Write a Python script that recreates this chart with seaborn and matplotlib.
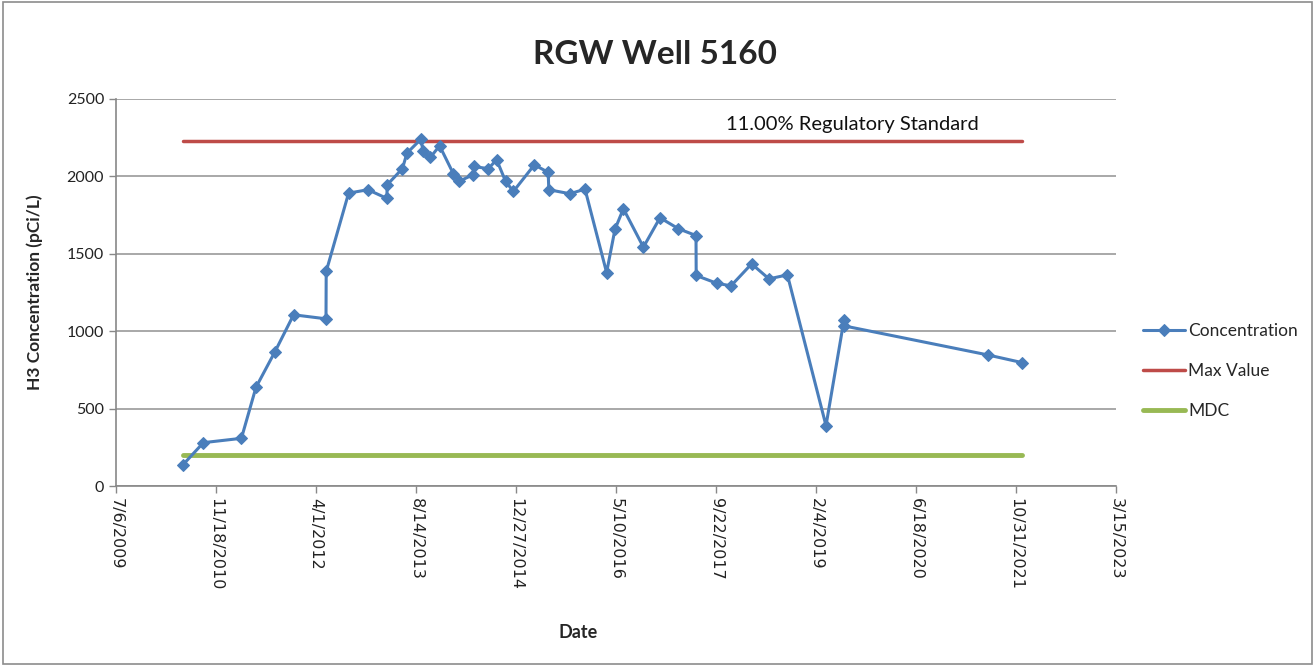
import matplotlib
matplotlib.use("Agg")
import matplotlib.pyplot as plt
from matplotlib.patches import Rectangle
import numpy as np
import pandas as pd
import seaborn as sns

#%% data

dates = ["2010-06-05", "2010-09-16", "2011-03-25", "2011-06-06", "2011-09-09",
         "2011-12-11", "2012-05-21", "2012-05-22", "2012-09-11", "2012-12-17",
         "2013-03-21", "2013-03-23", "2013-06-07", "2013-06-30", "2013-09-08",
         "2013-09-18", "2013-10-25", "2013-12-10", "2014-02-17", "2014-03-17",
         "2014-05-27", "2014-05-29", "2014-08-11", "2014-09-21", "2014-11-05",
         "2014-12-14", "2015-03-29", "2015-06-06", "2015-06-09", "2015-09-23",
         "2015-12-07", "2016-03-24", "2016-05-05", "2016-06-16", "2016-09-24",
         "2016-12-16", "2017-03-18", "2017-06-14", "2017-06-15", "2017-09-25",
         "2017-12-06", "2018-03-19", "2018-06-14", "2018-09-14", "2019-03-26",
         "2019-06-24", "2019-06-26", "2021-06-11", "2021-12-01"]
concentration = [136, 280, 308, 638, 868,
                 1106, 1080, 1386, 1892, 1914,
                 1858, 1946, 2050, 2151, 2241,
                 2162, 2123, 2198, 2017, 1968,
                 2011, 2064, 2050, 2108, 1968,
                 1903, 2075, 2026, 1914, 1888,
                 1918, 1379, 1659, 1791, 1543,
                 1733, 1662, 1618, 1360, 1310,
                 1293, 1435, 1338, 1364, 390,
                 1073, 1034, 847, 797]
max_value = 2228
mdc = 200
tick_dates = ["2009-07-06", "2010-11-18", "2012-04-01", "2013-08-14", "2014-12-27",
              "2016-05-10", "2017-09-22", "2019-02-04", "2020-06-18", "2021-10-31",
              "2023-03-15"]
tick_labels = ["7/6/2009", "11/18/2010", "4/1/2012", "8/14/2013", "12/27/2014",
               "5/10/2016", "9/22/2017", "2/4/2019", "6/18/2020", "10/31/2021",
               "3/15/2023"]

df = pd.DataFrame({"Date": pd.to_datetime(dates), "Concentration": concentration})
ends = pd.to_datetime([dates[0], dates[-1]])
ref = pd.DataFrame({"Date": list(ends) * 2,
                    "value": [max_value, max_value, mdc, mdc],
                    "series": ["Max Value", "Max Value", "MDC", "MDC"]})

#%% plot

sns.set_theme(style="white")
plt.rcParams['font.family'] = ['Lato', 'DejaVu Sans']

fig = plt.figure(figsize=(13.15, 6.66), dpi=100)
ax = fig.add_axes([116 / 1315, 1 - 486 / 666, 1000 / 1315, 387 / 666])

blue, red, green = "#4A7EBB", "#BE4B48", "#98B954"

sns.lineplot(data=df, x="Date", y="Concentration", sort=False, ax=ax,
             color=blue, lw=2.2, marker="D", markersize=6.5,
             markeredgecolor=blue, label="Concentration", zorder=4)
sns.lineplot(data=ref[ref.series == "Max Value"], x="Date", y="value", ax=ax,
             color=red, lw=2.5, label="Max Value", zorder=3)
sns.lineplot(data=ref[ref.series == "MDC"], x="Date", y="value", ax=ax,
             color=green, lw=3.5, label="MDC", zorder=3)

ax.set_xlim(pd.Timestamp(tick_dates[0]), pd.Timestamp(tick_dates[-1]))
ax.set_ylim(0, 2500)
ax.set_yticks(np.arange(0, 2501, 500))
ax.set_xticks(pd.to_datetime(tick_dates))
ax.set_xticklabels(tick_labels, rotation=270, fontsize=11.5,
                   family=['DejaVu Sans'], color="#222222")
ax.tick_params(axis="y", labelsize=11.5, colors="#222222")
ax.tick_params(axis="both", which="major", length=5, width=1, color="#888888",
               direction="out", bottom=True, left=True)

ax.grid(axis="y", color="#9a9a9a", lw=1.2)
ax.grid(axis="x", visible=False)
for s in ["top", "right"]:
    ax.spines[s].set_visible(False)
for s in ["left", "bottom"]:
    ax.spines[s].set_color("#888888")
    ax.spines[s].set_linewidth(1.2)

ax.set_xlabel("")
ax.set_ylabel("")
fig.text(35 / 1315, 1 - 292 / 666, "H3 Concentration (pCi/L)", rotation=90,
         ha="center", va="center", fontsize=12.5, fontweight="bold")
fig.text(578 / 1315, 1 - 632 / 666, "Date", ha="center", va="center",
         fontsize=13, fontweight="bold")
fig.text(655 / 1315, 1 - 55 / 666, "RGW Well 5160", ha="center", va="center",
         fontsize=24, fontweight="bold")
ax.text(pd.Timestamp("2019-08-03"), 2338, "11.00% Regulatory Standard",
        ha="center", va="center", fontsize=14.5, color="#111111")

leg = ax.legend(loc="upper left", bbox_to_anchor=(1143 / 1315, 1 - 323 / 666),
                bbox_transform=fig.transFigure, frameon=False, borderpad=0,
                borderaxespad=0, fontsize=12.5, handlelength=2.4,
                labelspacing=1.38, handletextpad=0.2)

fig.patches.append(Rectangle((0.002, 0.003), 0.996, 0.994, transform=fig.transFigure,
                             fill=False, edgecolor="#8c8c8c", lw=1.2))

fig.savefig("out.png", dpi=100)
